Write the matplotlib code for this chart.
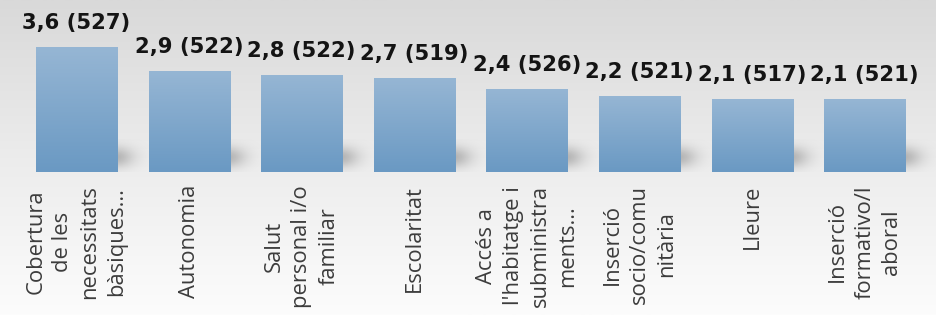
import matplotlib
matplotlib.use("Agg")
import matplotlib.pyplot as plt
import numpy as np
from matplotlib.colors import LinearSegmentedColormap

categories = [
    "Cobertura\nde les\nnecessitats\nbàsiques...",
    "Autonomia",
    "Salut\npersonal i/o\nfamiliar",
    "Escolaritat",
    "Accés a\nl'habitatge i\nsubministra\nments...",
    "Inserció\nsocio/comu\nnitària",
    "Lleure",
    "Inserció\nformativo/l\naboral",
]
mitjana = [3.6, 2.9, 2.8, 2.7, 2.4, 2.2, 2.1, 2.1]
respostes = [527, 522, 522, 519, 526, 521, 517, 521]

BAR_TOP = "#96b6d4"
BAR_BOT = "#6a99c3"
TEXT = "#3c3c3c"
VALUE = "#141414"

fig = plt.figure(figsize=(9.37, 3.15), dpi=100)
ax = fig.add_axes([0, 0, 1, 1])
ax.set_xlim(-0.679, 7.642)
ax.set_ylim(-4.12, 4.957)
ax.axis("off")

# fons en degradat gris
bg = LinearSegmentedColormap.from_list("bg", ["#fcfcfc", "#ececec", "#d9d9d9"])
grad = np.linspace(0, 1, 256).reshape(-1, 1)
ax.imshow(grad, cmap=bg, aspect="auto", origin="lower",
          extent=(-0.679, 7.642, -4.12, 4.957), zorder=0)

x = np.arange(len(categories))
width = 0.72

# ombres difuminades a la dreta de cada barra
gx = np.linspace(0, 1, 60)
gy = np.linspace(0, 1, 60)
GX, GY = np.meshgrid(gx, gy)
alpha = 0.45 * np.exp(-((GX - 0.0) / 0.5) ** 2) * np.exp(-((GY - 0.45) / 0.32) ** 2)
shadow = np.zeros((60, 60, 4))
shadow[..., :3] = 0.45
shadow[..., 3] = alpha
for xi in x:
    ax.imshow(shadow, origin="lower", aspect="auto", zorder=1,
              extent=(xi + width / 2 - 0.02, xi + width / 2 + 0.3, 0.0, 0.95))

bars = ax.bar(x, mitjana, width=width, color="none", edgecolor="none", zorder=2)
barcmap = LinearSegmentedColormap.from_list("bar", [BAR_BOT, BAR_TOP])
for rect in bars:
    x0, h = rect.get_x(), rect.get_height()
    im = ax.imshow(grad, cmap=barcmap, aspect="auto", origin="lower",
                   extent=(x0, x0 + width, 0, h), zorder=3)
    im.set_clip_path(rect)

for xi, v, n in zip(x, mitjana, respostes):
    ax.text(xi, v + 0.52, f"{v:.1f} ({n})".replace(".", ","),
            ha="center", va="baseline", fontsize=15.2, fontweight="bold",
            color=VALUE, family="DejaVu Sans", zorder=4)

for xi, lab in zip(x, categories):
    ax.text(xi, -0.375, lab, rotation=90, ha="center", va="top",
            multialignment="center", fontsize=15.8, color=TEXT,
            family="Open Sans", linespacing=1.38, zorder=4)

ax.set_xlim(-0.679, 7.642)
ax.set_ylim(-4.12, 4.957)
fig.savefig("out.png", dpi=100)
